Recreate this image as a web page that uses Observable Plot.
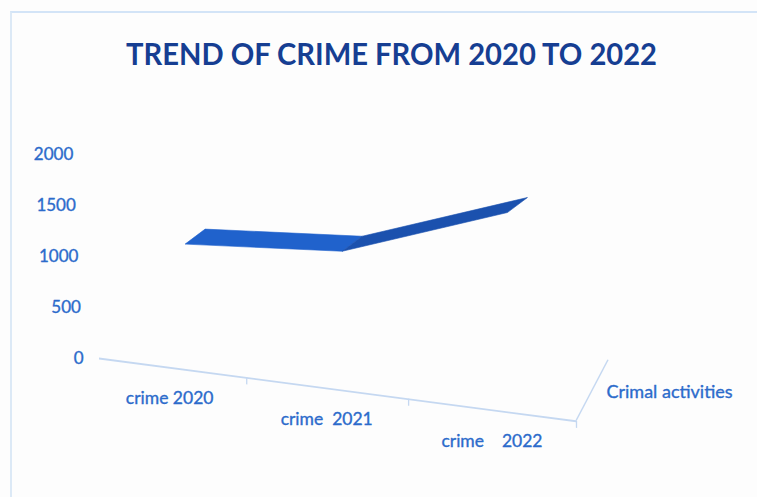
<!DOCTYPE html>
<html><head><meta charset="utf-8">
<script src="https://cdn.jsdelivr.net/npm/d3@7"></script>
<script src="https://cdn.jsdelivr.net/npm/@observablehq/plot@0.6"></script>
<style>
html,body{margin:0;padding:0;background:#fdfdfd;}
#wrap{position:relative;width:757px;height:497px;overflow:hidden;background:#fdfdfd;}
#border{position:absolute;left:10px;top:11px;width:800px;height:520px;border-top:2px solid #d3e4f7;border-left:2px solid #dce9f6;box-sizing:border-box;}
#chart{position:absolute;left:0;top:0;}
</style></head><body><div id="wrap"><div id="border"></div><div id="chart"></div></div>
<script>
// ---- data ----
const chartTitle = "TREND OF CRIME FROM 2020 TO 2022";
const categories = ["crime 2020", "crime  2021", "crime    2022"];
const crimeValues = [1190, 1120, 1500];
const yTicks = [0, 500, 1000, 1500, 2000];
const seriesName = "Crimal activities";

// ---- table built from the arrays ----
const rows = categories.map((c, i) => ({cat: c, pos: i + 0.5, value: crimeValues[i]}));
const bounds = categories.map((c, i) => i + 1);

// ---- 3D look (styles) ----
const FLOOR_SLOPE = 0.1315;   // floor front edge descends to the right
const AXIS_LEAN = 0.05;       // value labels lean with perspective
const RIBBON_DX = 26;         // ribbon sits at depth
const DEPTH = [20, -15];      // ribbon thickness vector (px)
const faceColors = ["#2062cc", "#1b51ae"];
const labelColor = "#2c6bcb";
const floorColor = "#c5d8f1";

function skewed(I, scales, values, dims, ctx, next) {
  const g = next(I, scales, values, dims, ctx);
  const x0 = scales.x(0);
  const w = d3.create("svg:g").attr("transform", `matrix(1,${FLOOR_SLOPE},0,1,0,${-FLOOR_SLOPE * x0})`);
  if (g) w.node().appendChild(g);
  return w.node();
}
function alongFloor(I, scales, values, dims, ctx, next) {
  const x0 = scales.x(0);
  const Y = Float64Array.from(values.y, (y, i) => y + FLOOR_SLOPE * (values.x[i] - x0));
  return next(I, scales, {...values, y: Y}, dims, ctx);
}
function leanAxis(I, scales, values, dims, ctx, next) {
  const y0 = scales.y(0);
  const X = Float64Array.from(values.x, (x, i) => x - AXIS_LEAN * (y0 - values.y[i]));
  return next(I, scales, {...values, x: X}, dims, ctx);
}
function ribbon(I, scales, values) {
  const X = values.x, Y = values.y;
  const hx = DEPTH[0] / 2, hy = DEPTH[1] / 2;
  const g = d3.create("svg:g");
  for (let s = 0; s < I.length - 1; s++) {
    const i = I[s], j = I[s + 1];
    const pts = [
      [X[i] + RIBBON_DX - hx, Y[i] - hy], [X[j] + RIBBON_DX - hx, Y[j] - hy],
      [X[j] + RIBBON_DX + hx, Y[j] + hy], [X[i] + RIBBON_DX + hx, Y[i] + hy]
    ];
    g.append("path").attr("d", "M" + pts.join("L") + "Z")
      .attr("fill", faceColors[s % faceColors.length])
      .attr("stroke", faceColors[s % faceColors.length]).attr("stroke-width", 0.6)
      .attr("stroke-linejoin", "round");
  }
  return g.node();
}
function depthAxis(I, scales, values) {
  const x0 = scales.x(0);
  const x = values.x[I[0]];
  const y = values.y1[I[0]] + FLOOR_SLOPE * (x - x0);
  return d3.create("svg:path").attr("d", `M${x},${y}l32,-61`).attr("stroke", floorColor)
    .attr("stroke-width", 1.5).attr("fill", "none").node();
}

const plot = Plot.plot({
  width: 757, height: 497,
  marginLeft: 99, marginRight: 181, marginTop: 154, marginBottom: 139,
  x: {type: "pow", exponent: 1.07, domain: [0, 3], axis: null},
  y: {domain: [0, 2000], axis: null},
  style: {background: "transparent", fontFamily: "Lato, 'Noto Sans', sans-serif", overflow: "visible"},
  marks: [
    // floor front edge and category dividers
    Plot.ruleY([0], {stroke: floorColor, strokeWidth: 1.8, render: skewed}),
    Plot.ruleX(bounds, {y1: () => 0, y2: () => 0, insetBottom: -7, stroke: floorColor, strokeWidth: 1.3, render: skewed}),
    Plot.ruleX([3], {y1: () => 0, y2: () => 0, render: depthAxis}),
    // value labels
    Plot.text(yTicks, {x: () => 0, y: d => d, text: d => `${d}`, textAnchor: "end", dx: -16,
      fill: labelColor, stroke: labelColor, strokeWidth: 0.35, fontSize: 17, render: leanAxis}),
    // category labels
    Plot.text(rows, {x: "pos", y: () => 0, text: "cat", dy: 31, fill: labelColor, stroke: labelColor,
      strokeWidth: 0.35, fontSize: 17.5, render: alongFloor}),
    // series (depth) label
    Plot.text([seriesName], {x: () => 3, y: () => 0, text: d => d, dx: 30, dy: 34, textAnchor: "start",
      fill: labelColor, stroke: labelColor, strokeWidth: 0.35, fontSize: 18}),
    // the 3D ribbon
    Plot.line(rows, {x: "pos", y: "value", render: ribbon}),
    // title
    Plot.text([chartTitle], {frameAnchor: "top", text: d => d, dx: 53.5, dy: -90, lineAnchor: "bottom",
      fill: "#163e92", fontSize: 30, fontWeight: "bold"})
  ]
});
plot.setAttributeNS("http://www.w3.org/XML/1998/namespace", "xml:space", "preserve");
document.getElementById("chart").appendChild(plot);
plot.querySelectorAll("text").forEach(t => {
  if (t.textContent === chartTitle) {
    t.setAttribute("textLength", 531);
    t.setAttribute("lengthAdjust", "spacingAndGlyphs");
  }
});
</script></body></html>
